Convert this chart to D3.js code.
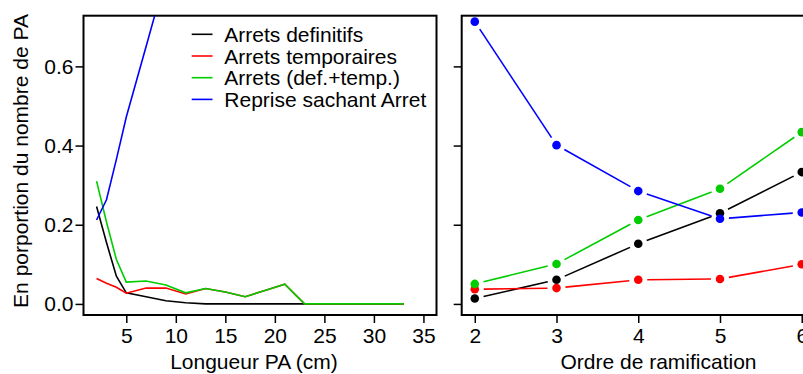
<!DOCTYPE html>
<html>
<head>
<meta charset="utf-8">
<style>
body{
  margin: 0;
  background-color: white;
}
svg{
  display: block;
  font-family: "Liberation Sans", Arial, sans-serif;
}
.axis path{
  stroke: none;
}
.axis .tick line{
  stroke: black;
  stroke-width: 1.5px;
}
.axis .tick text{
  font-size: 21px;
  fill: black;
  font-family: "Liberation Sans", Arial, sans-serif;
}
.frame{
  fill: none;
  stroke: black;
  stroke-width: 2px;
}
.series{
  fill: none;
  stroke-width: 1.6px;
}
</style>
</head>
<body>
<script src="https://cdn.jsdelivr.net/npm/d3@7"></script>
<script>
  var WIDTH = 803;
  var HEIGHT = 374;

  // panel 1 : longueur PA
  var lenX    = [2, 3, 4, 5, 7, 9, 11, 13, 15, 17, 19, 21, 23, 25, 27, 29, 31, 33];
  var defLen  = [0.246, 0.155, 0.070, 0.028, 0.018, 0.008, 0.003, 0, 0, 0, 0, 0, 0, 0, 0, 0, 0, 0];
  var tempLen = [0.064, 0.052, 0.042, 0.027, 0.040, 0.040, 0.025, 0.039, 0.030, 0.018, 0.034, 0.050, 0, 0, 0, 0, 0, 0];
  var totLen  = [0.310, 0.207, 0.112, 0.055, 0.058, 0.048, 0.028, 0.039, 0.030, 0.018, 0.034, 0.050, 0, 0, 0, 0, 0, 0];
  // beyond x=9 the curve leaves the plot, values not readable
  var repLen  = [0.212, 0.263, 0.365, 0.472, 0.650, 0.830, null, null, null, null, null, null, null, null, null, null, null, null];

  // panel 2 : ordre de ramification
  var ordX    = [2, 3, 4, 5, 6];
  var defOrd  = [0.0135, 0.061, 0.152, 0.229, 0.333];
  var tempOrd = [0.037, 0.040, 0.061, 0.063, 0.100];
  var totOrd  = [0.0505, 0.101, 0.212, 0.291, 0.434];
  var repOrd  = [0.713, 0.401, 0.285, 0.215, 0.231];

  var yTicks = [0, 0.2, 0.4, 0.6];
  var lenTicks = [5, 10, 15, 20, 25, 30, 35];
  var ordTicks = [2, 3, 4, 5, 6];

  var seriesNames = ["Arrets definitifs", "Arrets temporaires", "Arrets (def.+temp.)", "Reprise sachant Arret"];
  var seriesColors = ["black", "#ff0000", "#00cd00", "#0000ff"];

  var TOP = 15.7, BOTTOM = 315;

  yScale = d3.scaleLinear()
    .domain([-0.028, 0.728])
    .range([BOTTOM, TOP]);

  xLen = d3.scaleLinear()
    .domain([0.68, 36.32])
    .range([83.5, 436.5]);

  xOrd = d3.scaleLinear()
    .domain([1.84, 6.16])
    .range([461.7, 814.8]);

  var svg = d3.select("body").append("svg")
    .attr("width", WIDTH)
    .attr("height", HEIGHT);

  svg.append("clipPath")
    .attr("id", "clipLen")
    .append("rect")
      .attr("x", xLen.range()[0]).attr("y", TOP)
      .attr("width", xLen.range()[1] - xLen.range()[0])
      .attr("height", BOTTOM - TOP);

  drawLengthPanel();
  drawOrderPanel();

  function drawAxes(xScale, xTicks, showYLabels){
    svg.append("g")
      .attr("class", "axis")
      .attr("transform", `translate(${xScale.range()[0]},0)`)
      .call(d3.axisLeft(yScale)
        .tickValues(yTicks)
        .tickSize(8)
        .tickPadding(2)
        .tickFormat(showYLabels ? d3.format(".1f") : ""));

    svg.append("g")
      .attr("class", "axis")
      .attr("transform", `translate(0,${BOTTOM})`)
      .call(d3.axisBottom(xScale)
        .tickValues(xTicks)
        .tickSize(8)
        .tickPadding(5)
        .tickFormat(d3.format("d")));

    svg.append("rect")
      .attr("class", "frame")
      .attr("x", xScale.range()[0])
      .attr("y", TOP)
      .attr("width", xScale.range()[1] - xScale.range()[0])
      .attr("height", BOTTOM - TOP);
  }

  function drawLengthPanel(){
    drawAxes(xLen, lenTicks, true);

    var line = d3.line()
      .defined((d) => d[1] != null)
      .x((d) => xLen(d[0]))
      .y((d) => yScale(d[1]));

    var plot = svg.append("g").attr("clip-path", "url(#clipLen)");

    [defLen, tempLen, totLen, repLen].forEach(function(vals, k){
      plot.append("path")
        .attr("class", "series")
        .attr("stroke", seriesColors[k])
        .attr("d", line(lenX.map((x, i) => [x, vals[i]])));
    });

    // legend
    var legend = svg.append("g");
    seriesNames.forEach(function(name, k){
      var ly = 34.3 + k * 21.7;
      legend.append("line")
        .attr("x1", 191.7).attr("x2", 212.5)
        .attr("y1", ly).attr("y2", ly)
        .attr("stroke", seriesColors[k])
        .attr("stroke-width", 1.6);
      legend.append("text")
        .attr("x", 224.3).attr("y", ly)
        .attr("dy", "0.36em")
        .style("font-size", "21px")
        .text(name);
    });

    svg.append("text")
      .attr("x", 254).attr("y", 369)
      .attr("text-anchor", "middle")
      .style("font-size", "21px")
      .text("Longueur PA (cm)");

    svg.append("text")
      .attr("transform", "translate(28,161) rotate(-90)")
      .attr("text-anchor", "middle")
      .style("font-size", "21px")
      .text("En porportion du nombre de PA");
  }

  function drawOrderPanel(){
    drawAxes(xOrd, ordTicks, false);

    var GAP = 9;
    var plot = svg.append("g");

    [defOrd, tempOrd, totOrd, repOrd].forEach(function(vals, k){
      var pts = ordX.map((x, i) => [xOrd(x), yScale(vals[i])]);
      // type "b": segments stop short of each point
      var segs = d3.pairs(pts).map(function(p){
        var dx = p[1][0] - p[0][0], dy = p[1][1] - p[0][1];
        var len = Math.sqrt(dx*dx + dy*dy);
        var ux = dx/len, uy = dy/len;
        return [p[0][0] + ux*GAP, p[0][1] + uy*GAP, p[1][0] - ux*GAP, p[1][1] - uy*GAP];
      });
      plot.selectAll(null)
        .data(segs)
        .enter()
        .append("line")
          .attr("x1", (d) => d[0]).attr("y1", (d) => d[1])
          .attr("x2", (d) => d[2]).attr("y2", (d) => d[3])
          .attr("stroke", seriesColors[k])
          .attr("stroke-width", 1.6);
      plot.selectAll(null)
        .data(pts)
        .enter()
        .append("circle")
          .attr("cx", (d) => d[0])
          .attr("cy", (d) => d[1])
          .attr("r", 4.3)
          .attr("fill", seriesColors[k]);
    });

    svg.append("text")
      .attr("x", 658.5).attr("y", 369)
      .attr("text-anchor", "middle")
      .style("font-size", "21px")
      .text("Ordre de ramification");
  }
</script>
</body>
</html>
